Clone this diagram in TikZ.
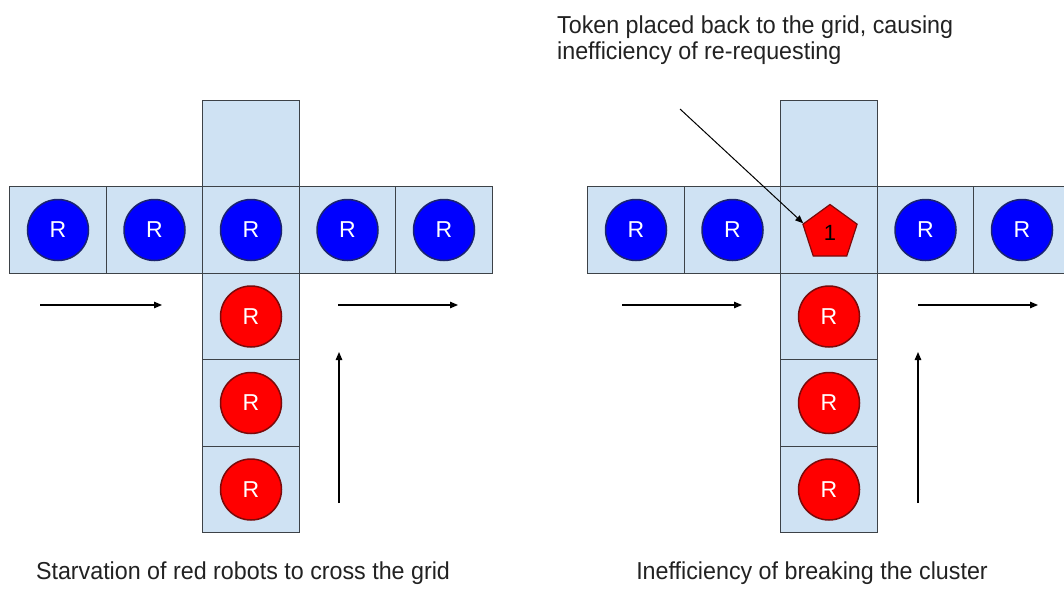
\documentclass[tikz,border=0pt]{standalone}
\usepackage{fontspec}
\setmainfont{Liberation Sans}
\usetikzlibrary{arrows.meta,shapes.geometric}
\definecolor{ink}{HTML}{222222}
\definecolor{cellfill}{HTML}{CFE2F3}
\definecolor{cellborder}{HTML}{3D4247}
\definecolor{botblue}{HTML}{0000FF}
\definecolor{botblueborder}{HTML}{1A2370}
\definecolor{botred}{HTML}{FF0000}
\definecolor{botredborder}{HTML}{7A0A0A}
\tikzset{
  cell/.style={draw=cellborder,fill=cellfill,line width=1.3pt,minimum width=96.5pt,minimum height=86.5pt,inner sep=0pt},
  robot/.style={circle,line width=1.5pt,minimum size=61pt,inner sep=0pt,text=white,font=\fontsize{23}{23}\selectfont},
  bluebot/.style={robot,draw=botblueborder,fill=botblue},
  redbot/.style={robot,draw=botredborder,fill=botred},
  token/.style={regular polygon,regular polygon sides=5,draw=botredborder,fill=botred,line width=1.2pt,minimum size=57pt,inner sep=0pt,font=\fontsize{22}{22}\selectfont,text=black},
  move/.style={-{Triangle[length=8pt,width=6.5pt]},draw=black,line width=1.2pt},
  caption/.style={font=\fontsize{24.5}{25.5}\selectfont,text=ink,inner sep=0pt,xscale=0.95}
}

\begin{document}
\begin{tikzpicture}[x=1pt,y=-1pt]
  \useasboundingbox (0,0) rectangle (1064,602);

  % starvation: blue row keeps the crossing cell busy
  \node[cell] (l-w2) at (58,230) {};
  \node[cell] (l-w1) at (154.5,230) {};
  \node[cell] (l-mid) at (251,230) {};
  \node[cell] (l-e1) at (347.5,230) {};
  \node[cell] (l-e2) at (444,230) {};
  \node[cell] (l-top) at (251,143.5) {};
  \node[cell] (l-s1) at (251,316.5) {};
  \node[cell] (l-s2) at (251,403) {};
  \node[cell] (l-s3) at (251,489.5) {};

  \node[bluebot] (l-b1) at (l-w2) {R};
  \node[bluebot] (l-b2) at (l-w1) {R};
  \node[bluebot] (l-b3) at (l-mid) {R};
  \node[bluebot] (l-b4) at (l-e1) {R};
  \node[bluebot] (l-b5) at (l-e2) {R};
  \node[redbot] (l-r1) at (l-s1) {R};
  \node[redbot] (l-r2) at (l-s2) {R};
  \node[redbot] (l-r3) at (l-s3) {R};

  \coordinate (l-in-a) at (40,305);
  \coordinate (l-in-b) at (162,305);
  \coordinate (l-out-a) at (338,305);
  \coordinate (l-out-b) at (458,305);
  \coordinate (l-up-a) at (339,503);
  \coordinate (l-up-b) at (339,352);
  \draw[move] (l-in-a) -- (l-in-b);
  \draw[move] (l-out-a) -- (l-out-b);
  \draw[move] (l-up-a) -- (l-up-b);

  \node[caption,anchor=base] (l-caption) at (243,579)
    {Starvation of red robots to cross the grid};

  % cluster broken up: the token sits in the crossing cell
  \node[cell] (r-w2) at (636,230) {};
  \node[cell] (r-w1) at (732.5,230) {};
  \node[cell] (r-mid) at (829,230) {};
  \node[cell] (r-e1) at (925.5,230) {};
  \node[cell] (r-e2) at (1022,230) {};
  \node[cell] (r-top) at (829,143.5) {};
  \node[cell] (r-s1) at (829,316.5) {};
  \node[cell] (r-s2) at (829,403) {};
  \node[cell] (r-s3) at (829,489.5) {};

  \node[bluebot] (r-b1) at (r-w2) {R};
  \node[bluebot] (r-b2) at (r-w1) {R};
  \node[token] (tok) at (830,233) {1};
  \node[bluebot] (r-b4) at (r-e1) {R};
  \node[bluebot] (r-b5) at (r-e2) {R};
  \node[redbot] (r-r1) at (r-s1) {R};
  \node[redbot] (r-r2) at (r-s2) {R};
  \node[redbot] (r-r3) at (r-s3) {R};

  \coordinate (r-in-a) at (622,305);
  \coordinate (r-in-b) at (742,305);
  \coordinate (r-out-a) at (918,305);
  \coordinate (r-out-b) at (1038,305);
  \coordinate (r-up-a) at (918,503);
  \coordinate (r-up-b) at (918,352);
  \draw[move] (r-in-a) -- (r-in-b);
  \draw[move] (r-out-a) -- (r-out-b);
  \draw[move] (r-up-a) -- (r-up-b);

  \node[caption,anchor=north west,align=left] (note) at (557,16)
    {Token placed back to the grid, causing\\inefficiency of re-requesting};
  \coordinate (note-tip) at (680,109);
  \draw[move,line width=1pt] (note-tip) -- (tok.160);

  \node[caption,anchor=base] (r-caption) at (812,579)
    {Inefficiency of breaking the cluster};
\end{tikzpicture}
\end{document}
